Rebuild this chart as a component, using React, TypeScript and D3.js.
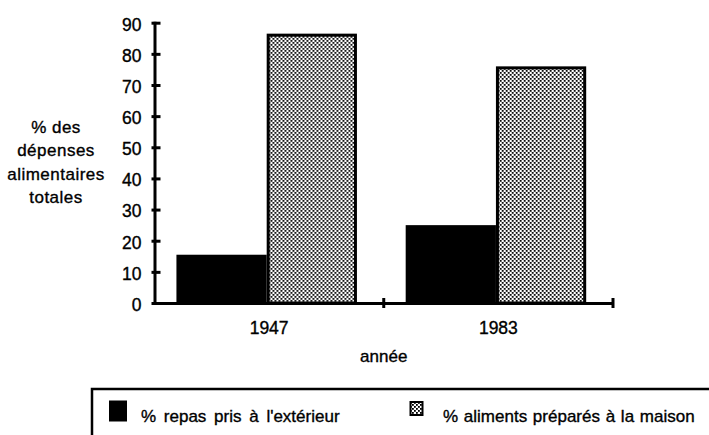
import { useEffect, useRef } from "react";
import * as d3 from "d3";

const YEARS = ["1947", "1983"];
const SERIES = ["% repas pris à l'extérieur", "% aliments préparés à la maison"];
const REPAS_EXTERIEUR = [15.5, 25];
const ALIMENTS_MAISON = [86, 75.5];
const Y_TICKS = [0, 10, 20, 30, 40, 50, 60, 70, 80, 90];
const Y_TITLE = ["% des", "dépenses", "alimentaires", "totales"];
const X_TITLE = "année";

const W = 709;
const H = 435;
const FONT = "'Liberation Sans', Arial, sans-serif";

export default function App() {
  const svgRef = useRef<SVGSVGElement>(null);

  useEffect(() => {
    if (!svgRef.current) return;
    const svg = d3.select(svgRef.current);
    svg.selectAll("*").remove();

    // dotted screen fill used by the "maison" bars
    const defs = svg.append("defs");
    const pat = defs
      .append("pattern")
      .attr("id", "dots")
      .attr("patternUnits", "userSpaceOnUse")
      .attr("width", 4)
      .attr("height", 4);
    pat.append("rect").attr("width", 4).attr("height", 4).attr("fill", "#fff");
    pat.append("rect").attr("x", 0).attr("y", 0).attr("width", 1.8).attr("height", 1.8).attr("fill", "#000");
    pat.append("rect").attr("x", 2).attr("y", 2).attr("width", 1.8).attr("height", 1.8).attr("fill", "#000");

    const y = d3.scaleLinear().domain([0, 90]).range([303, 22.7]);
    const x0 = d3.scaleBand().domain(YEARS).range([154.5, 613]).padding(0);
    const x1 = d3
      .scaleBand<number>()
      .domain([0, 1])
      .range([0, x0.bandwidth()])
      .paddingInner(0)
      .paddingOuter(0.27)
      .align(0.45);

    const rows = YEARS.map((year, i) => ({
      year,
      values: [REPAS_EXTERIEUR[i], ALIMENTS_MAISON[i]],
    }));

    // Bars
    const groups = svg
      .append("g")
      .selectAll("g")
      .data(rows)
      .join("g")
      .attr("transform", (d) => `translate(${x0(d.year)},0)`);

    groups
      .append("rect")
      .attr("x", x1(0)!)
      .attr("y", (d) => y(d.values[0]))
      .attr("width", x1.bandwidth())
      .attr("height", (d) => y(0) - y(d.values[0]))
      .attr("fill", "#000");

    groups
      .append("rect")
      .attr("x", x1(1)! + 1.5)
      .attr("y", (d) => y(d.values[1]))
      .attr("width", x1.bandwidth() - 3)
      .attr("height", (d) => y(0) - y(d.values[1]))
      .attr("fill", "url(#dots)")
      .attr("stroke", "#000")
      .attr("stroke-width", 3);

    // Y axis
    svg
      .append("g")
      .attr("transform", `translate(${x0.range()[0]},0)`)
      .call(
        d3
          .axisLeft(y)
          .tickValues(Y_TICKS)
          .tickSizeInner(-6)
          .tickSizeOuter(0)
          .tickPadding(13)
          .tickFormat((d) => String(d))
      )
      .call((axis) => {
        axis.attr("font-family", FONT).attr("font-size", 17.5);
        axis.select(".domain").attr("stroke", "#000").attr("stroke-width", 3).attr("stroke-linecap", "square");
        axis.selectAll(".tick line").attr("stroke", "#000").attr("stroke-width", 3).attr("x1", -3);
        axis
          .selectAll(".tick text")
          .attr("fill", "#000")
          .attr("stroke", "#000")
          .attr("stroke-width", 0.35)
          .attr("dy", "0.42em");
      });

    // X axis
    svg
      .append("g")
      .attr("transform", `translate(0,${y(0)})`)
      .call(d3.axisBottom(x0).tickSize(0).tickSizeOuter(0).tickPadding(19))
      .call((axis) => {
        axis.attr("font-family", FONT).attr("font-size", 17.5);
        axis.select(".domain").attr("stroke", "#000").attr("stroke-width", 3);
        axis.selectAll(".tick text").attr("fill", "#000").attr("stroke", "#000").attr("stroke-width", 0.35);
      });

    // category separators on the x axis
    svg
      .append("g")
      .selectAll("line")
      .data(YEARS)
      .join("line")
      .attr("x1", (d) => x0(d)! + x0.bandwidth())
      .attr("x2", (d) => x0(d)! + x0.bandwidth())
      .attr("y1", y(0) - 5)
      .attr("y2", y(0) + 5)
      .attr("stroke", "#000")
      .attr("stroke-width", 3);

    // Y title
    svg
      .append("text")
      .attr("font-family", FONT)
      .attr("font-size", 17)
      .attr("letter-spacing", 0.5)
      .attr("stroke", "#000")
      .attr("stroke-width", 0.35)
      .attr("text-anchor", "middle")
      .selectAll("tspan")
      .data(Y_TITLE)
      .join("tspan")
      .attr("x", 56)
      .attr("y", (_, i) => 133 + i * 23.3)
      .text((d) => d);

    // X title
    svg
      .append("text")
      .attr("x", (x0.range()[0] + x0.range()[1]) / 2)
      .attr("y", 362)
      .attr("font-family", FONT)
      .attr("font-size", 17)
      .attr("stroke", "#000")
      .attr("stroke-width", 0.35)
      .attr("text-anchor", "middle")
      .text(X_TITLE);

    // Legend box (runs off the right and bottom edges)
    const lg = svg.append("g");
    lg.append("rect")
      .attr("x", 92)
      .attr("y", 389)
      .attr("width", 640)
      .attr("height", 80)
      .attr("fill", "none")
      .attr("stroke", "#000")
      .attr("stroke-width", 2.5);

    lg.append("rect").attr("x", 109).attr("y", 400.5).attr("width", 18).attr("height", 21).attr("fill", "#000");
    lg.append("rect")
      .attr("x", 410.5)
      .attr("y", 402)
      .attr("width", 12)
      .attr("height", 13)
      .attr("fill", "url(#dots)")
      .attr("stroke", "#000")
      .attr("stroke-width", 2);

    lg.selectAll("text.leg")
      .data(SERIES)
      .join("text")
      .attr("class", "leg")
      .attr("x", (_, i) => (i === 0 ? 141 : 443))
      .attr("y", 422)
      .attr("font-family", FONT)
      .attr("font-size", 17)
      .attr("stroke", "#000")
      .attr("stroke-width", 0.35)
      .attr("word-spacing", (_, i) => (i === 0 ? 3 : 1))
      .text((d) => d);
  }, []);

  return (
    <svg
      ref={svgRef}
      width={W}
      height={H}
      style={{ position: "absolute", left: 0, top: 0, background: "#fff" }}
    />
  );
}
